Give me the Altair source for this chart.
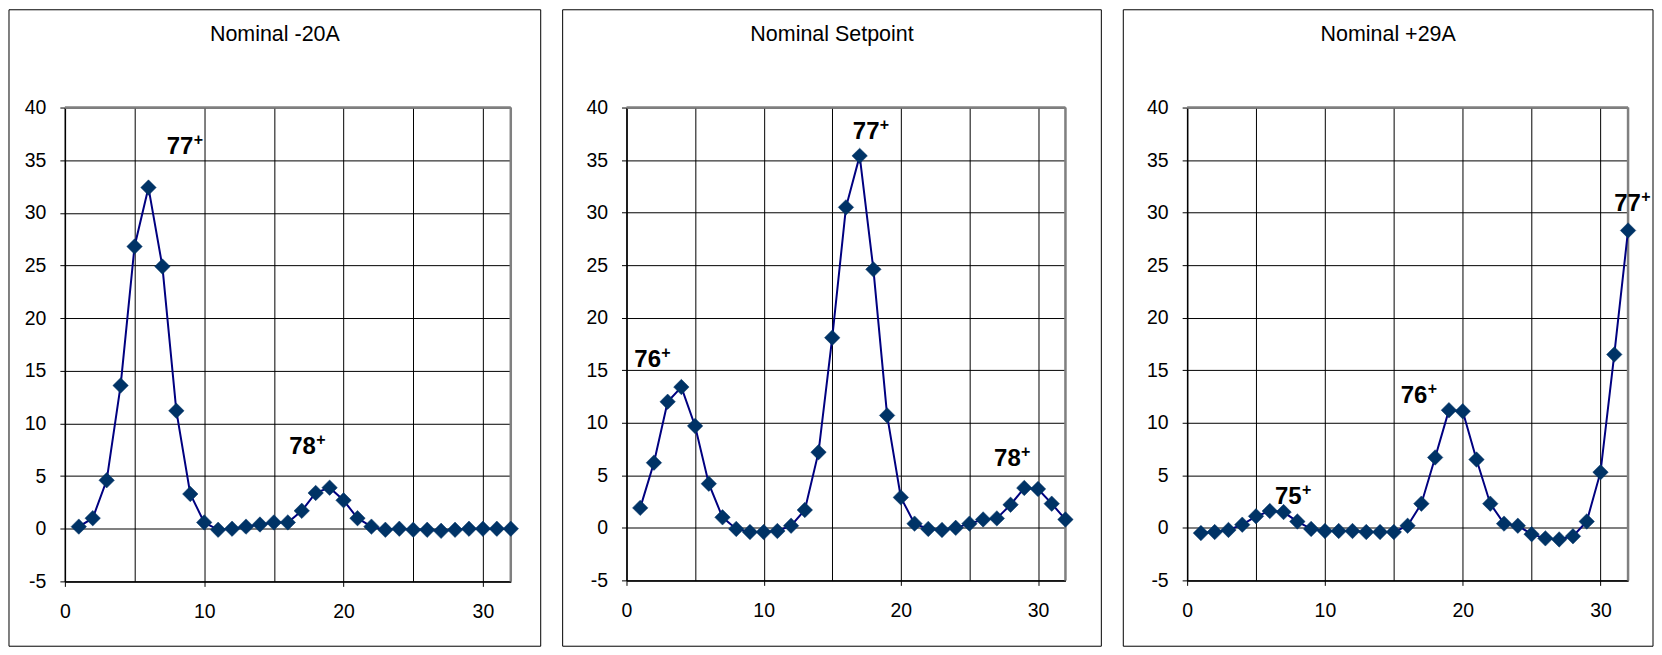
import altair as alt
import pandas as pd

# ---------------- data ----------------
x_vals = list(range(1, 33))

minus20 = [0.2, 1.0, 4.6, 13.6, 26.8, 32.4, 24.9, 11.2, 3.3, 0.6,
           -0.1, 0.0, 0.2, 0.4, 0.6, 0.6, 1.7, 3.4, 3.9, 2.7,
           1.0, 0.2, -0.1, 0.0, -0.1, -0.1, -0.2, -0.1, 0.0, 0.0,
           0.0, 0.0]
setpoint = [1.9, 6.2, 12.0, 13.4, 9.7, 4.2, 1.0, -0.1, -0.4, -0.4,
            -0.3, 0.2, 1.7, 7.2, 18.1, 30.5, 35.4, 24.6, 10.7, 2.9,
            0.4, -0.1, -0.2, 0.0, 0.4, 0.8, 0.9, 2.2, 3.8, 3.7,
            2.3, 0.8]
plus29 = [-0.5, -0.4, -0.2, 0.3, 1.1, 1.6, 1.5, 0.6, -0.1, -0.3,
          -0.3, -0.3, -0.4, -0.4, -0.4, 0.2, 2.3, 6.7, 11.2, 11.1,
          6.5, 2.3, 0.4, 0.2, -0.6, -1.0, -1.1, -0.8, 0.6, 5.3,
          16.5, 28.3]

titles = ["Nominal -20A", "Nominal Setpoint", "Nominal +29A"]

# peak labels (ion mass, left/baseline position in data units)
lab1_text = ["77", "78"]
lab1_x = [7.31, 16.1]
lab1_y = [35.6, 7.1]

lab2_text = ["76", "77", "78"]
lab2_x = [0.57, 16.5, 26.8]
lab2_y = [15.3, 37.0, 5.9]

lab3_text = ["75", "76", "77"]
lab3_x = [6.38, 15.5, 31.0]
lab3_y = [2.24, 11.9, 30.2]

x_ticks = [0, 5, 10, 15, 20, 25, 30]
y_ticks = [-5, 0, 5, 10, 15, 20, 25, 30, 35, 40]

# ---------------- style ----------------
FONT = "Liberation Sans"
LINE_COLOR = "#000080"
MARK_COLOR = "#003366"
BG = "#FFFFCC"


def panel(title, values, lab_text, lab_x, lab_y, W, H, left, right, top, bottom):
    df = pd.DataFrame({"x": x_vals, "y": values})
    ldf = pd.DataFrame({"t": lab_text, "x": lab_x, "y": lab_y, "p": ["+"] * len(lab_text)})
    one = pd.DataFrame({"a": [0]})

    x_enc = alt.X(
        "x:Q",
        scale=alt.Scale(domain=[0, 32], nice=False, zero=False),
        axis=alt.Axis(
            values=x_ticks, title=None, grid=True, gridColor="black", gridWidth=1,
            gridOpacity=1,
            domainColor="black", domainWidth=1.5, tickColor="black", tickSize=5,
            tickWidth=1,
            tickOpacity={"condition": {"test": "datum.value % 10 === 0", "value": 1}, "value": 0},
            labelExpr="datum.value % 10 === 0 ? '' + datum.value : ''",
            labelFont=FONT, labelFontSize=19.5, labelColor="black", labelPadding=16,
            labelFlush=False, labelOverlap=False,
        ),
    )
    y_enc = alt.Y(
        "y:Q",
        scale=alt.Scale(domain=[-5, 40], nice=False, zero=False),
        axis=alt.Axis(
            values=y_ticks, title=None, grid=True, gridColor="black", gridWidth=1,
            gridOpacity=1,
            domainColor="black", domainWidth=1.5, tickColor="black", tickSize=5,
            tickWidth=1,
            labelExpr="'' + datum.value",
            labelFont=FONT, labelFontSize=19.5, labelColor="black", labelPadding=14,
            labelFlush=False, labelOverlap=False,
        ),
    )

    frame = alt.Chart(one).mark_rect(filled=False, stroke="black", strokeWidth=1).encode(
        x=alt.value(-left), x2=alt.value(W + right),
        y=alt.value(-top), y2=alt.value(H + bottom),
    )
    ttl = alt.Chart(one).mark_text(
        text=title, font=FONT, fontSize=21.5, color="black",
        align="center", baseline="alphabetic",
    ).encode(
        x=alt.value((W + right - left) / 2),
        y=alt.value(-top + 31),
    )
    top_edge = alt.Chart(one).mark_rule(color="#808080", strokeWidth=2.5).encode(
        x=alt.value(0), x2=alt.value(W), y=alt.value(0)
    )
    right_edge = alt.Chart(one).mark_rule(color="#808080", strokeWidth=2.5).encode(
        x=alt.value(W), y=alt.value(0), y2=alt.value(H)
    )
    line = alt.Chart(df).mark_line(color=LINE_COLOR, strokeWidth=2).encode(x=x_enc, y=y_enc)
    pts = alt.Chart(df).mark_point(
        shape="diamond", filled=True, size=240, color=MARK_COLOR, opacity=1,
        stroke=MARK_COLOR, strokeWidth=0.5,
    ).encode(x=x_enc, y=y_enc)
    labs = alt.Chart(ldf).mark_text(
        font=FONT, fontSize=24, fontWeight="bold", color="black",
        align="left", baseline="alphabetic",
    ).encode(x=x_enc, y=y_enc, text="t:N")
    plus = alt.Chart(ldf).mark_text(
        font=FONT, fontSize=16, fontWeight="bold", color="black",
        align="left", baseline="alphabetic", dx=27, dy=-9,
    ).encode(x=x_enc, y=y_enc, text="p:N")

    return alt.layer(frame, ttl, top_edge, right_edge, line, pts, labs, plus).properties(
        width=W, height=H
    )


p1 = panel(titles[0], minus20, lab1_text, lab1_x, lab1_y, 447, 475, 56, 30, 98, 65)
p2 = panel(titles[1], setpoint, lab2_text, lab2_x, lab2_y, 440, 474, 64, 36, 98, 66)
p3 = panel(titles[2], plus29, lab3_text, lab3_x, lab3_y, 442, 474, 64, 25, 98, 66)

chart = alt.concat(p1, p2, p3, columns=3, spacing=20, align="none").properties(
    padding=0
).configure_view(fill=BG, stroke="transparent").configure(background="white")

chart.save("out.html", embed_options={"renderer": "svg", "actions": False})
